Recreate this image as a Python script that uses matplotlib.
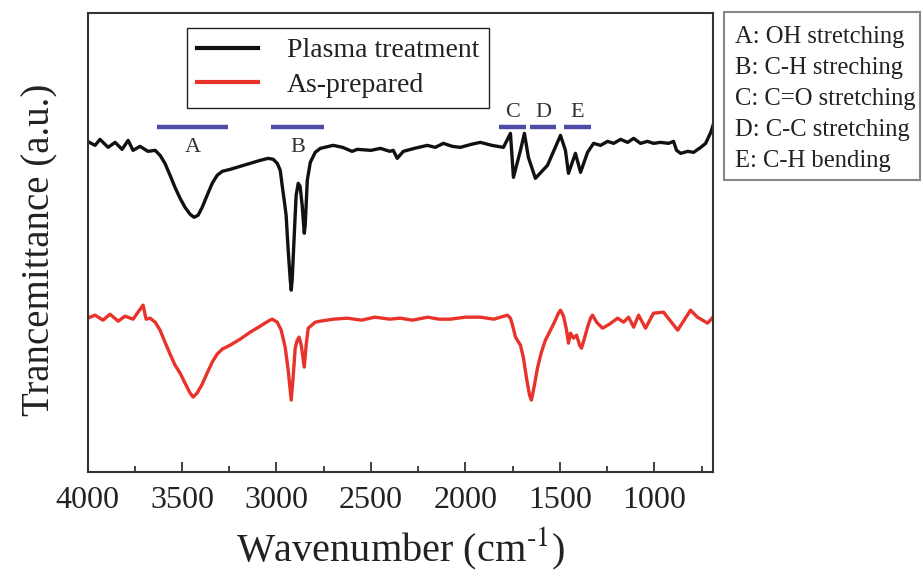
import matplotlib
matplotlib.use("Agg")
import matplotlib.pyplot as plt
from matplotlib.patches import Rectangle
from matplotlib.ticker import MultipleLocator

plt.rcParams.update({"font.family": ["Liberation Serif", "DejaVu Serif"],
                     "mathtext.fontset": "stix"})

# FTIR spectra (transmittance in arbitrary units)
plasma_wn = [4000, 3960, 3934, 3891, 3854, 3817, 3785, 3759, 3722, 3680, 3642,
             3616, 3590, 3563, 3537, 3510, 3484, 3457, 3436, 3415, 3393, 3367,
             3340, 3314, 3287, 3245, 3192, 3139, 3086, 3044, 3017, 2996, 2980,
             2970, 2959, 2949, 2938, 2927, 2922, 2917, 2906, 2896, 2885, 2875,
             2864, 2853, 2848, 2837, 2821, 2795, 2768, 2700, 2650, 2600, 2572,
             2500, 2450, 2400, 2382, 2361, 2329, 2270, 2202, 2160, 2117, 2070,
             2027, 1970, 1921, 1860, 1799, 1762, 1746, 1709, 1688, 1667, 1630,
             1566, 1497, 1471, 1455, 1418, 1391, 1354, 1322, 1285, 1248, 1216,
             1179, 1142, 1110, 1074, 1037, 1005, 968, 925, 899, 883, 861, 824,
             793, 755, 729, 702, 690]
plasma_t = [3.31, 3.27, 3.33, 3.25, 3.30, 3.23, 3.32, 3.22, 3.26, 3.21, 3.22,
            3.17, 3.09, 2.97, 2.85, 2.74, 2.65, 2.58, 2.55, 2.57, 2.65, 2.77,
            2.89, 2.97, 3.01, 3.03, 3.06, 3.09, 3.12, 3.14, 3.13, 3.09, 3.02,
            2.87, 2.72, 2.57, 2.22, 1.92, 1.82, 1.92, 2.37, 2.77, 2.89, 2.86,
            2.67, 2.39, 2.47, 2.92, 3.10, 3.20, 3.24, 3.27, 3.25, 3.21, 3.23,
            3.22, 3.24, 3.21, 3.22, 3.14, 3.21, 3.24, 3.27, 3.25, 3.29, 3.26,
            3.25, 3.28, 3.30, 3.27, 3.25, 3.39, 2.95, 3.22, 3.39, 3.15, 2.94,
            3.07, 3.37, 3.22, 2.99, 3.19, 3.00, 3.20, 3.29, 3.27, 3.31, 3.29,
            3.33, 3.30, 3.34, 3.29, 3.31, 3.29, 3.30, 3.29, 3.31, 3.22, 3.19,
            3.21, 3.20, 3.25, 3.29, 3.40, 3.47]

prep_wn = [4000, 3960, 3918, 3881, 3838, 3801, 3759, 3706, 3690, 3669, 3642,
           3616, 3590, 3563, 3537, 3510, 3484, 3457, 3441, 3420, 3393, 3367,
           3340, 3314, 3287, 3245, 3192, 3139, 3086, 3044, 3023, 2996, 2975,
           2954, 2938, 2922, 2911, 2901, 2890, 2880, 2869, 2853, 2843, 2832,
           2795, 2768, 2700, 2625, 2550, 2480, 2400, 2345, 2280, 2200, 2140,
           2080, 2000, 1921, 1850, 1778, 1762, 1751, 1735, 1719, 1709, 1693,
           1677, 1661, 1651, 1635, 1619, 1598, 1577, 1550, 1529, 1508, 1497,
           1481, 1465, 1455, 1444, 1428, 1412, 1396, 1386, 1370, 1354, 1338,
           1328, 1306, 1275, 1238, 1195, 1163, 1137, 1110, 1084, 1047, 1005,
           952, 877, 809, 772, 719, 690]
prep_t = [1.54, 1.57, 1.52, 1.58, 1.51, 1.56, 1.53, 1.67, 1.53, 1.54, 1.50,
          1.42, 1.30, 1.18, 1.07, 0.99, 0.89, 0.79, 0.75, 0.79, 0.88, 0.99,
          1.10, 1.18, 1.23, 1.27, 1.33, 1.40, 1.46, 1.51, 1.53, 1.50, 1.42,
          1.25, 1.02, 0.72, 0.97, 1.24, 1.32, 1.35, 1.27, 1.05, 1.27, 1.44,
          1.50, 1.51, 1.53, 1.54, 1.52, 1.55, 1.53, 1.54, 1.52, 1.55, 1.53,
          1.53, 1.55, 1.55, 1.53, 1.57, 1.54, 1.47, 1.35, 1.30, 1.27, 1.14,
          0.94, 0.77, 0.72, 0.87, 1.04, 1.20, 1.32, 1.42, 1.50, 1.59, 1.62,
          1.56, 1.42, 1.29, 1.39, 1.34, 1.37, 1.27, 1.24, 1.34, 1.45, 1.54,
          1.57, 1.50, 1.44, 1.48, 1.54, 1.50, 1.55, 1.45, 1.57, 1.44, 1.59,
          1.60, 1.42, 1.62, 1.55, 1.49, 1.55]

# band assignments: label, start, end (cm-1)
band_labels = ["A", "B", "C", "D", "E"]
band_start = [3632, 3028, 1825, 1656, 1481]
band_end = [3256, 2747, 1677, 1519, 1338]
band_notes = ["A: OH stretching", "B: C-H streching", "C: C=O stretching",
              "D: C-C stretching", "E: C-H bending"]

fig = plt.figure(figsize=(9.23, 5.79), dpi=100)
ax = fig.add_axes([0.0948, 0.1848, 0.6777, 0.7936])

ax.plot(plasma_wn, plasma_t, color="#111111", lw=2.4, label="Plasma treatment")
ax.plot(prep_wn, prep_t, color="#e8322a", lw=2.4, label="As-prepared")

BAR = "#4c4ca6"
for lab, s, e in zip(band_labels, band_start, band_end):
    ax.plot([s, e], [3.45, 3.45], color=BAR, lw=3.2, solid_capstyle="butt")
    mid = (s + e) / 2
    ty = 3.25 if lab in ("A", "B") else 3.60
    ax.text(mid, ty, lab, ha="center", va="center", fontsize=16, color="#333333")

ax.set_xlim(4000, 690)
ax.set_ylim(0, 4.6)
ax.xaxis.set_major_locator(MultipleLocator(500))
ax.xaxis.set_minor_locator(MultipleLocator(250))
ax.tick_params(axis="x", which="both", direction="in", top=False, width=1.2,
               labelsize=23, pad=10, colors="#222222")
ax.tick_params(axis="x", which="major", length=7)
ax.tick_params(axis="x", which="minor", length=4)
ax.set_yticks([])
for sp in ax.spines.values():
    sp.set_linewidth(1.5)
    sp.set_color("#333333")

ax.set_xlabel("Wavenumber (cm$^{\\text{-1}}$)", fontsize=29,
              color="#222222", labelpad=8)
ax.set_ylabel("Trancemittance (a.u.)", fontsize=28, color="#222222")
ax.yaxis.set_label_coords(-0.046, 0.483)

leg = ax.legend(loc="upper left", bbox_to_anchor=(0.159, 0.966), borderaxespad=0,
                fontsize=20, frameon=True, fancybox=False, framealpha=1,
                edgecolor="#222222", handlelength=2.2, handletextpad=1.05,
                labelspacing=0.34, borderpad=0.35)
leg.get_frame().set_linewidth(1.0)
for ln in leg.get_lines():
    ln.set_linewidth(3.0)
for t in leg.get_texts():
    t.set_color("#222222")

# side box with band assignments
fig.patches.append(Rectangle((724 / 923, 1 - 180 / 579), 196 / 923, 168 / 579,
                             transform=fig.transFigure, fill=False,
                             edgecolor="#888888", lw=1.5))
for i, note in enumerate(band_notes):
    fig.text(735 / 923, 1 - (37 + 31 * i) / 579, note, fontsize=17.7,
             va="center", ha="left", color="#222222")

fig.savefig("out.png", dpi=100)
